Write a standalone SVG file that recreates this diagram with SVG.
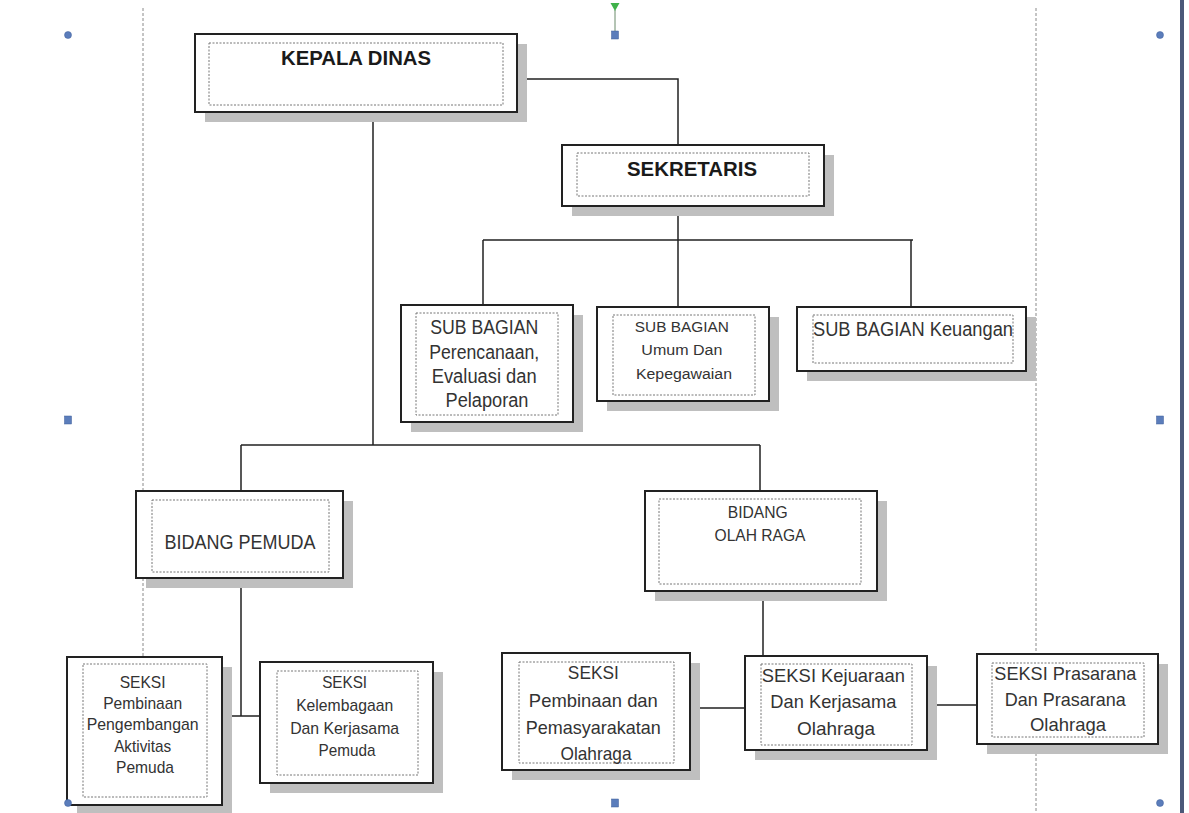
<svg xmlns="http://www.w3.org/2000/svg" width="1189" height="813" viewBox="0 0 1189 813">
<defs>
<style>
.box{fill:#fff;stroke:#222;stroke-width:2}
.shadow{fill:#bfbfbf}
.inner{fill:none;stroke:#777;stroke-width:1;stroke-dasharray:2 1.5}
.t{font-family:"Liberation Sans",Arial,sans-serif;fill:#333;text-anchor:middle}
.b{font-weight:bold;fill:#1a1a1a}
.conn{stroke:#222;stroke-width:1.5;fill:none}
.margin{stroke:#8a8a8a;stroke-width:1;stroke-dasharray:3 2;fill:none}
.handle{fill:#5b7dbb;stroke:#3f5f9a;stroke-width:0.5}
</style>
</defs>
<rect width="1189" height="813" fill="#fff"/>
<g id="margins">
<path class="margin" d="M143 8V813M1036 8V813"/>
</g>
<g id="connectors">
<path class="conn" d="M517 79H678V145"/>
<path class="conn" d="M678 206V240M483 240H913M483 240V305M678 240V307M911 240V307"/>
<path class="conn" d="M373 112V445M241 445H760M241 445V491M760 445V491"/>
<path class="conn" d="M241 578V716M222 716H260"/>
<path class="conn" d="M763 591V656M690 708H745M927 705H977"/>
</g>
<g id="kepala-dinas">
<rect class="shadow" x="205" y="44" width="322" height="78"/>
<rect class="box" x="195" y="34" width="322" height="78"/>
<rect class="inner" x="209" y="43" width="294" height="62"/>
<text class="t b" x="356" y="65" font-size="20" textLength="150" lengthAdjust="spacingAndGlyphs">KEPALA DINAS</text>
</g>
<g id="sekretaris">
<rect class="shadow" x="572" y="155" width="262" height="61"/>
<rect class="box" x="562" y="145" width="262" height="61"/>
<rect class="inner" x="577" y="153" width="232" height="43"/>
<text class="t b" x="692" y="176" font-size="20" textLength="130" lengthAdjust="spacingAndGlyphs">SEKRETARIS</text>
</g>
<g id="sub-bagian-perencanaan">
<rect class="shadow" x="411" y="315" width="172" height="117"/>
<rect class="box" x="401" y="305" width="172" height="117"/>
<rect class="inner" x="416" y="313" width="142" height="102"/>
<text class="t" font-size="20">
<tspan x="487" y="334" textLength="108" lengthAdjust="spacingAndGlyphs">SUB BAGIAN</tspan>
<tspan x="487" y="359" textLength="110" lengthAdjust="spacingAndGlyphs">Perencanaan,</tspan>
<tspan x="487" y="383" textLength="105" lengthAdjust="spacingAndGlyphs">Evaluasi dan</tspan>
<tspan x="487" y="407" textLength="83" lengthAdjust="spacingAndGlyphs">Pelaporan</tspan>
</text>
</g>
<g id="sub-bagian-umum">
<rect class="shadow" x="607" y="317" width="172" height="94"/>
<rect class="box" x="597" y="307" width="172" height="94"/>
<rect class="inner" x="613" y="315" width="142" height="80"/>
<text class="t" font-size="15.5">
<tspan x="684" y="332" textLength="94" lengthAdjust="spacingAndGlyphs">SUB BAGIAN</tspan>
<tspan x="684" y="355" textLength="81" lengthAdjust="spacingAndGlyphs">Umum Dan</tspan>
<tspan x="684" y="379" textLength="96" lengthAdjust="spacingAndGlyphs">Kepegawaian</tspan>
</text>
</g>
<g id="sub-bagian-keuangan">
<rect class="shadow" x="807" y="317" width="229" height="64"/>
<rect class="box" x="797" y="307" width="229" height="64"/>
<rect class="inner" x="813" y="315" width="200" height="48"/>
<text class="t" x="913" y="336" font-size="20" textLength="200" lengthAdjust="spacingAndGlyphs">SUB BAGIAN Keuangan</text>
</g>
<g id="bidang-pemuda">
<rect class="shadow" x="146" y="501" width="207" height="87"/>
<rect class="box" x="136" y="491" width="207" height="87"/>
<rect class="inner" x="152" y="500" width="177" height="72"/>
<text class="t" x="240" y="549" font-size="21" textLength="151" lengthAdjust="spacingAndGlyphs">BIDANG PEMUDA</text>
</g>
<g id="bidang-olah-raga">
<rect class="shadow" x="655" y="501" width="232" height="100"/>
<rect class="box" x="645" y="491" width="232" height="100"/>
<rect class="inner" x="659" y="499" width="202" height="85"/>
<text class="t" font-size="16.5">
<tspan x="760" y="518" textLength="60" lengthAdjust="spacingAndGlyphs">BIDANG</tspan>
<tspan x="760" y="541" textLength="91" lengthAdjust="spacingAndGlyphs">OLAH RAGA</tspan>
</text>
</g>
<g id="seksi-pembinaan-pemuda">
<rect class="shadow" x="77" y="667" width="155" height="148"/>
<rect class="box" x="67" y="657" width="155" height="148"/>
<rect class="inner" x="83" y="664" width="124" height="133"/>
<text class="t" font-size="17">
<tspan x="145" y="688" textLength="46" lengthAdjust="spacingAndGlyphs">SEKSI</tspan>
<tspan x="145" y="709" textLength="79" lengthAdjust="spacingAndGlyphs">Pembinaan</tspan>
<tspan x="145" y="730" textLength="112" lengthAdjust="spacingAndGlyphs">Pengembangan</tspan>
<tspan x="145" y="752" textLength="57" lengthAdjust="spacingAndGlyphs">Aktivitas</tspan>
<tspan x="145" y="773" textLength="58" lengthAdjust="spacingAndGlyphs">Pemuda</tspan>
</text>
</g>
<g id="seksi-kelembagaan">
<rect class="shadow" x="270" y="672" width="173" height="121"/>
<rect class="box" x="260" y="662" width="173" height="121"/>
<rect class="inner" x="277" y="671" width="141" height="104"/>
<text class="t" font-size="17">
<tspan x="347" y="688" textLength="45" lengthAdjust="spacingAndGlyphs">SEKSI</tspan>
<tspan x="347" y="711" textLength="97" lengthAdjust="spacingAndGlyphs">Kelembagaan</tspan>
<tspan x="347" y="734" textLength="109" lengthAdjust="spacingAndGlyphs">Dan Kerjasama</tspan>
<tspan x="347" y="756" textLength="57" lengthAdjust="spacingAndGlyphs">Pemuda</tspan>
</text>
</g>
<g id="seksi-pembinaan-olahraga">
<rect class="shadow" x="512" y="663" width="188" height="117"/>
<rect class="box" x="502" y="653" width="188" height="117"/>
<rect class="inner" x="519" y="662" width="155" height="101"/>
<text class="t" font-size="19">
<tspan x="596" y="679" textLength="51" lengthAdjust="spacingAndGlyphs">SEKSI</tspan>
<tspan x="596" y="707" textLength="129" lengthAdjust="spacingAndGlyphs">Pembinaan dan</tspan>
<tspan x="596" y="734" textLength="135" lengthAdjust="spacingAndGlyphs">Pemasyarakatan</tspan>
<tspan x="596" y="760" textLength="71" lengthAdjust="spacingAndGlyphs">Olahraga</tspan>
</text>
</g>
<g id="seksi-kejuaraan">
<rect class="shadow" x="755" y="666" width="182" height="94"/>
<rect class="box" x="745" y="656" width="182" height="94"/>
<rect class="inner" x="761" y="664" width="151" height="81"/>
<text class="t" font-size="19">
<tspan x="836" y="682" textLength="143" lengthAdjust="spacingAndGlyphs">SEKSI Kejuaraan</tspan>
<tspan x="836" y="708" textLength="126" lengthAdjust="spacingAndGlyphs">Dan Kerjasama</tspan>
<tspan x="836" y="735" textLength="78" lengthAdjust="spacingAndGlyphs">Olahraga</tspan>
</text>
</g>
<g id="seksi-prasarana">
<rect class="shadow" x="987" y="664" width="181" height="90"/>
<rect class="box" x="977" y="654" width="181" height="90"/>
<rect class="inner" x="992" y="663" width="152" height="74"/>
<text class="t" font-size="19">
<tspan x="1068" y="680" textLength="142" lengthAdjust="spacingAndGlyphs">SEKSI Prasarana</tspan>
<tspan x="1068" y="706" textLength="121" lengthAdjust="spacingAndGlyphs">Dan Prasarana</tspan>
<tspan x="1068" y="731" textLength="76" lengthAdjust="spacingAndGlyphs">Olahraga</tspan>
</text>
</g>
<g id="handles">
<line x1="615" y1="10" x2="615" y2="31" stroke="#6a8a6a" stroke-width="1"/>
<path d="M610.5 3H619.5L615 11Z" fill="#3fb24a"/>
<circle class="handle" cx="68" cy="35" r="3.5"/>
<circle class="handle" cx="1160" cy="35" r="3.5"/>
<circle class="handle" cx="68" cy="803" r="3.5"/>
<circle class="handle" cx="1160" cy="803" r="3.5"/>
<rect class="handle" x="611.5" y="31" width="7" height="8"/>
<rect class="handle" x="64.5" y="416" width="7" height="8"/>
<rect class="handle" x="1156.5" y="416" width="7" height="8"/>
<rect class="handle" x="611.5" y="799" width="7" height="8"/>
</g>
<rect x="1180" y="0" width="4" height="813" fill="#4b5878"/>
</svg>
